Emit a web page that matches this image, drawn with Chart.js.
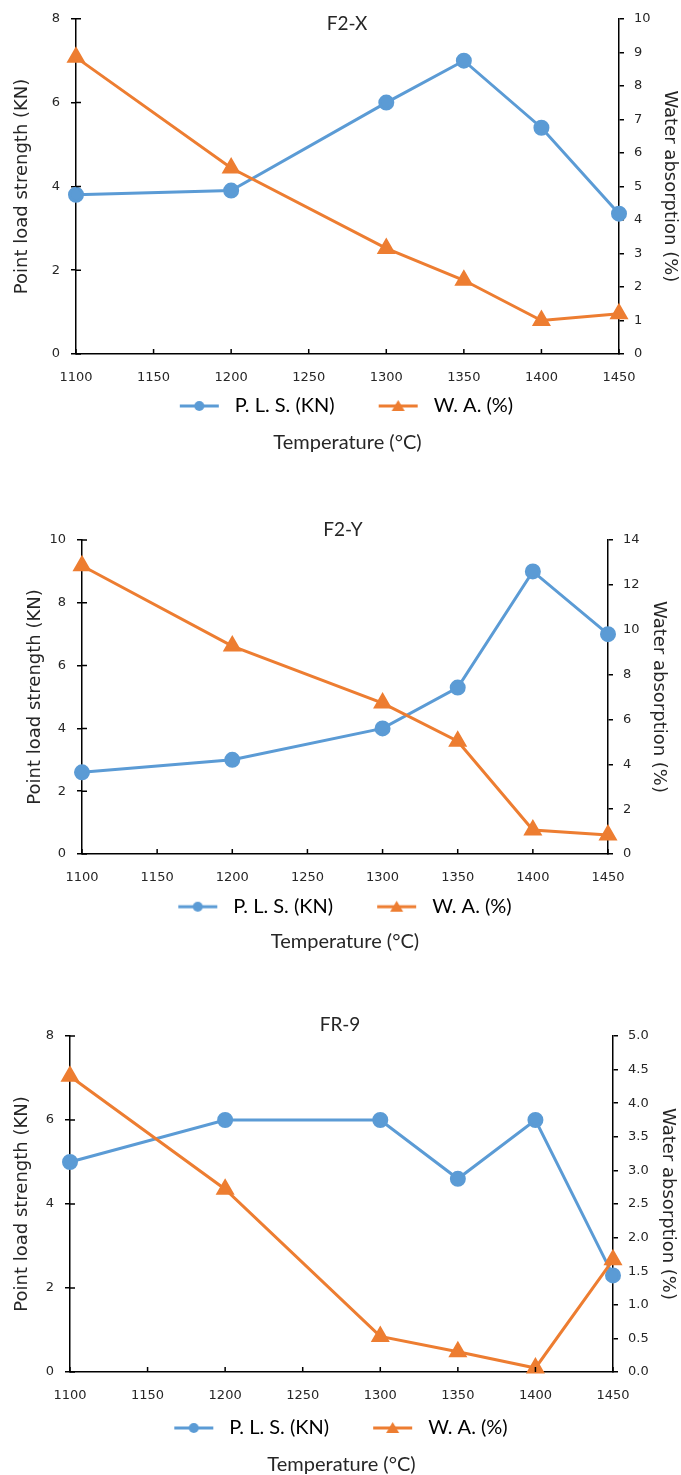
<!DOCTYPE html>
<html>
<head>
<meta charset="utf-8">
<script src="https://cdn.jsdelivr.net/npm/chart.js@4.4.1/dist/chart.umd.min.js"></script>
<style>
  body { margin: 0; background: #fff; }
  .box { position: absolute; left: 0; width: 681px; }
</style>
</head>
<body>
<div class="box" style="top:0;height:470px"><canvas id="chartX"></canvas></div>
<div class="box" style="top:480px;height:490px"><canvas id="chartY"></canvas></div>
<div class="box" style="top:985px;height:490px"><canvas id="chartR"></canvas></div>
<script>
// firing temperatures (x values), same for all three samples
const temps = [1100, 1200, 1300, 1350, 1400, 1450];
const tempTicks = [1100, 1450, 50]; // min, max, step

// F2-X
const f2xPls = [3.8, 3.9, 6.0, 7.0, 5.4, 3.35];
const f2xWa = [8.85, 5.55, 3.15, 2.2, 1.0, 1.2];
const f2xLeftTicks = [0, 8, 2];
const f2xRightTicks = [0, 10, 1];

// F2-Y
const f2yPls = [2.6, 3.0, 4.0, 5.3, 9.0, 7.0];
const f2yWa = [12.85, 9.27, 6.73, 5.03, 1.07, 0.85];
const f2yLeftTicks = [0, 10, 2];
const f2yRightTicks = [0, 14, 2];

// FR-9
const fr9Pls = [5.0, 6.0, 6.0, 4.6, 6.0, 2.3];
const fr9Wa = [4.4, 2.72, 0.53, 0.3, 0.06, 1.67];
const fr9LeftTicks = [0, 8, 2];
const fr9RightTicks = [0, 5, 0.5];

const seriesNames = ['P. L. S. (KN)', 'W. A. (%)'];

const blue = '#5B9BD5';
const orange = '#ED7D31';
const textCol = '#262626';
const W = 681;
const LEG_FONT = 20, LEG_PAD = 10, TITLE_FONT = 20;
const ICON_GAP = 34;               // blank in front of each legend line -> spacing between items
const ICON_W = ICON_GAP + 45;

// little line+marker picture for the legend, like excel does it
function legendIcon(color, marker) {
    const c = document.createElement('canvas');
    c.width = ICON_W; c.height = 16;
    const g = c.getContext('2d');
    const x0 = ICON_GAP;
    g.strokeStyle = color; g.fillStyle = color; g.lineWidth = 3;
    g.beginPath(); g.moveTo(x0, 8); g.lineTo(x0 + 39, 8); g.stroke();
    g.beginPath();
    if (marker == 'circle') {
        g.arc(x0 + 19.5, 8, 5, 0, Math.PI * 2);
    } else {
        g.moveTo(x0 + 19.5, 2); g.lineTo(x0 + 26, 13); g.lineTo(x0 + 13, 13); g.closePath();
    }
    g.fill();
    return c;
}

// draws the inward tick marks and the sample name
const extras = {
    id: 'extras',
    afterDraw(chart, args, opts) {
        const {ctx, chartArea, scales} = chart;
        ctx.save();
        ctx.strokeStyle = '#000';
        ctx.lineWidth = 1.5;
        ctx.beginPath();
        scales.x.ticks.forEach(t => {
            const px = scales.x.getPixelForValue(t.value);
            ctx.moveTo(px, chartArea.bottom);
            ctx.lineTo(px, chartArea.bottom - 5);
        });
        scales.y.ticks.forEach(t => {
            const py = scales.y.getPixelForValue(t.value);
            ctx.moveTo(chartArea.left, py);
            ctx.lineTo(chartArea.left + 5, py);
        });
        ctx.stroke();
        ctx.font = '19px Lato';
        ctx.fillStyle = textCol;
        ctx.textAlign = 'center';
        ctx.textBaseline = 'middle';
        ctx.fillText(opts.name, opts.nameX, opts.nameY);
        ctx.restore();
    }
};

function makeChart(id, s) {
    const pts = vals => temps.map((t, i) => ({x: t, y: vals[i]}));
    const boxH = s.boxH;
    // vertical stack under the plot: x axis, legend, axis title
    const xH = s.legendY - LEG_FONT / 2 - LEG_PAD - s.area.bottom;
    const legH = LEG_FONT + LEG_PAD + 10;
    const legBottom = s.area.bottom + xH + legH;
    const titleTop = s.titleY - TITLE_FONT / 2 - legBottom;
    const titleH = titleTop + TITLE_FONT;
    const padBottom = boxH - s.area.bottom - xH - legH - titleH;
    // horizontal: legend is full width, so move its centre with the side paddings
    const legCentre = s.legendX - ICON_GAP / 2;
    const padR = W - s.area.right - 40;
    const padL = 2 * legCentre - W + padR;
    const leftTitlePad = s.leftTitleX - padL - 10.8;
    const rightTitlePad = (W - padR) - s.rightTitleX - 10.8;

    const icons = [legendIcon(blue, 'circle'), legendIcon(orange, 'triangle')];
    const tickFont = {family: 'DejaVu Sans', size: 13};

    return new Chart(document.getElementById(id), {
        type: 'line',
        data: {
            datasets: [{
                label: seriesNames[0],
                data: pts(s.pls),
                yAxisID: 'y',
                borderColor: blue,
                backgroundColor: blue,
                borderWidth: 3,
                pointStyle: 'circle',
                pointRadius: 6.5,
                pointHoverRadius: 6.5,
                tension: 0,
                clip: false,
                order: 1
            }, {
                label: seriesNames[1],
                data: pts(s.wa),
                yAxisID: 'y1',
                borderColor: orange,
                backgroundColor: orange,
                borderWidth: 3,
                pointStyle: 'triangle',
                pointRadius: 8,
                pointHoverRadius: 8,
                tension: 0,
                clip: false,
                order: 0
            }]
        },
        options: {
            responsive: true,
            maintainAspectRatio: false,
            animation: false,
            layout: {
                padding: {top: s.area.top, bottom: padBottom, left: padL, right: padR}
            },
            plugins: {
                tooltip: {enabled: false},
                legend: {
                    position: 'bottom',
                    labels: {
                        usePointStyle: true,
                        pointStyleWidth: ICON_W,
                        padding: LEG_PAD,
                        color: textCol,
                        font: {family: 'Lato', size: LEG_FONT},
                        generateLabels: chart => chart.data.datasets.map((ds, i) => ({
                            text: ds.label,
                            pointStyle: icons[i],
                            fillStyle: ds.borderColor,
                            strokeStyle: ds.borderColor,
                            lineWidth: 0,
                            hidden: false,
                            datasetIndex: i
                        }))
                    }
                },
                title: {
                    display: true,
                    position: 'bottom',
                    fullSize: false, // centred under the plot area
                    text: 'Temperature (°C)',
                    color: textCol,
                    font: {family: 'Lato', size: TITLE_FONT, weight: 'normal', lineHeight: 1},
                    padding: {top: titleTop, bottom: 0}
                },
                extras: {name: s.name, nameX: s.nameX, nameY: s.nameY}
            },
            scales: {
                x: {
                    type: 'linear',
                    min: tempTicks[0],
                    max: tempTicks[1],
                    ticks: {
                        stepSize: tempTicks[2],
                        padding: 8,
                        color: textCol,
                        font: tickFont,
                        callback: v => String(v)
                    },
                    grid: {display: false},
                    border: {display: true, color: '#000', width: 1.5},
                    afterFit: sc => { sc.height = xH; }
                },
                y: {
                    position: 'left',
                    min: s.left[0],
                    max: s.left[1],
                    ticks: {stepSize: s.left[2], padding: 11, color: textCol, font: tickFont},
                    grid: {drawOnChartArea: false, tickLength: 5, color: '#000', lineWidth: 1.5},
                    border: {color: '#000', width: 1.5},
                    title: {
                        display: true,
                        text: 'Point load strength (KN)',
                        color: textCol,
                        font: {family: 'DejaVu Sans', size: 18},
                        padding: {top: leftTitlePad, bottom: 0}
                    },
                    afterFit: sc => { sc.width = s.area.left - padL; }
                },
                y1: {
                    position: 'right',
                    min: s.right[0],
                    max: s.right[1],
                    ticks: {
                        stepSize: s.right[2],
                        padding: 10,
                        color: textCol,
                        font: tickFont,
                        callback: v => s.decimals ? v.toFixed(1) : String(v)
                    },
                    grid: {drawOnChartArea: false, tickLength: 5, color: '#000', lineWidth: 1.5},
                    border: {color: '#000', width: 1.5},
                    title: {
                        display: true,
                        text: 'Water absorption (%)',
                        color: textCol,
                        font: {family: 'DejaVu Sans', size: 18},
                        padding: {top: rightTitlePad, bottom: 0}
                    },
                    afterFit: sc => { sc.width = W - padR - s.area.right; }
                }
            }
        },
        plugins: [extras]
    });
}

// positions are relative to each box
makeChart('chartX', {
    boxH: 470, area: {left: 76, right: 619, top: 18, bottom: 354},
    legendX: 346.5, legendY: 406, titleY: 443, leftTitleX: 22, rightTitleX: 670,
    name: 'F2-X', nameX: 347, nameY: 24,
    pls: f2xPls, wa: f2xWa, left: f2xLeftTicks, right: f2xRightTicks
});
makeChart('chartY', {
    boxH: 490, area: {left: 82, right: 608, top: 60, bottom: 374},
    legendX: 345, legendY: 426.7, titleY: 462, leftTitleX: 35, rightTitleX: 659,
    name: 'F2-Y', nameX: 343, nameY: 50,
    pls: f2yPls, wa: f2yWa, left: f2yLeftTicks, right: f2yRightTicks
});
makeChart('chartR', {
    boxH: 490, area: {left: 70, right: 613, top: 51, bottom: 387},
    legendX: 341, legendY: 443, titleY: 480, leftTitleX: 22, rightTitleX: 668,
    name: 'FR-9', nameX: 340, nameY: 40,
    pls: fr9Pls, wa: fr9Wa, left: fr9LeftTicks, right: fr9RightTicks, decimals: true
});
</script>
</body>
</html>
